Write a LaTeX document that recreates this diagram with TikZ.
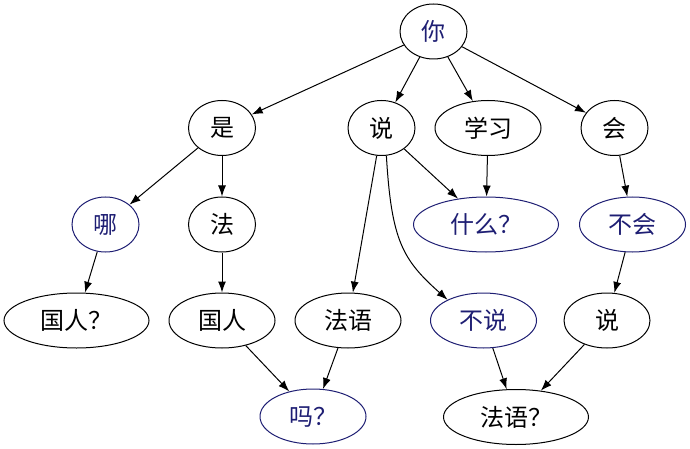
\documentclass[tikz,border=0pt]{standalone}
\usepackage{fontspec}
\newfontfamily\cjk{Noto Sans CJK SC}
\usetikzlibrary{shapes.geometric,arrows.meta}
\definecolor{qblue}{RGB}{30,30,115}

\begin{document}
\begin{tikzpicture}[x=1pt,y=-1pt,>={Latex[length=11pt,width=8pt]},
  word/.style={draw,ellipse,line width=1pt,inner sep=0pt,
    minimum width=67pt,minimum height=55pt,font=\cjk\fontsize{24}{24}\selectfont},
  mid/.style={minimum width=106pt},
  wide/.style={minimum width=145pt},
  ask/.style={draw=qblue,text=qblue}]
  \useasboundingbox (0,0) rectangle (690,449);
  % The nodes, row by row
  \node[word,text=qblue] (ni) at (433.5,31.5) {你};

  \node[word] (shi) at (222,128) {是};
  \node[word] (shuo) at (381.5,128) {说};
  \node[word,mid] (xuexi) at (488,128) {学习};
  \node[word] (hui) at (614.5,128) {会};

  \node[word,ask] (na) at (105.5,224.5) {哪};
  \node[word] (fa) at (222,224.5) {法};
  \node[word,wide,ask] (shenme) at (486,224.5) {什么？};
  \node[word,mid,ask] (buhui) at (632.5,224.5) {不会};

  \node[word,wide] (guorenq) at (76.5,320.5) {国人？};
  \node[word,mid] (guoren) at (222,320.5) {国人};
  \node[word,mid] (fayu) at (348,320.5) {法语};
  \node[word,mid,ask] (bushuo) at (483.5,320.5) {不说};
  \node[word,minimum width=86pt] (shuob) at (607,320.5) {说};

  \node[word,mid,ask] (ma) at (313,416.5) {吗？};
  \node[word,wide] (fayuq) at (516,417) {法语？};

  % The straight edges
  \foreach \a/\b in {ni/shi,ni/shuo,ni/xuexi,ni/hui,shi/na,shi/fa,
    shuo/shenme,shuo/fayu,xuexi/shenme,hui/buhui,na/guorenq,fa/guoren,
    buhui/shuob,guoren/ma,fayu/ma,bushuo/fayuq,shuob/fayuq}
    \draw[->,line width=1pt] (\a) -- (\b);
  % The bent edge
  \draw[->,line width=1pt] (shuo.-80) .. controls +(5,85) and +(-45,-40) .. (bushuo.150);
\end{tikzpicture}
\end{document}
